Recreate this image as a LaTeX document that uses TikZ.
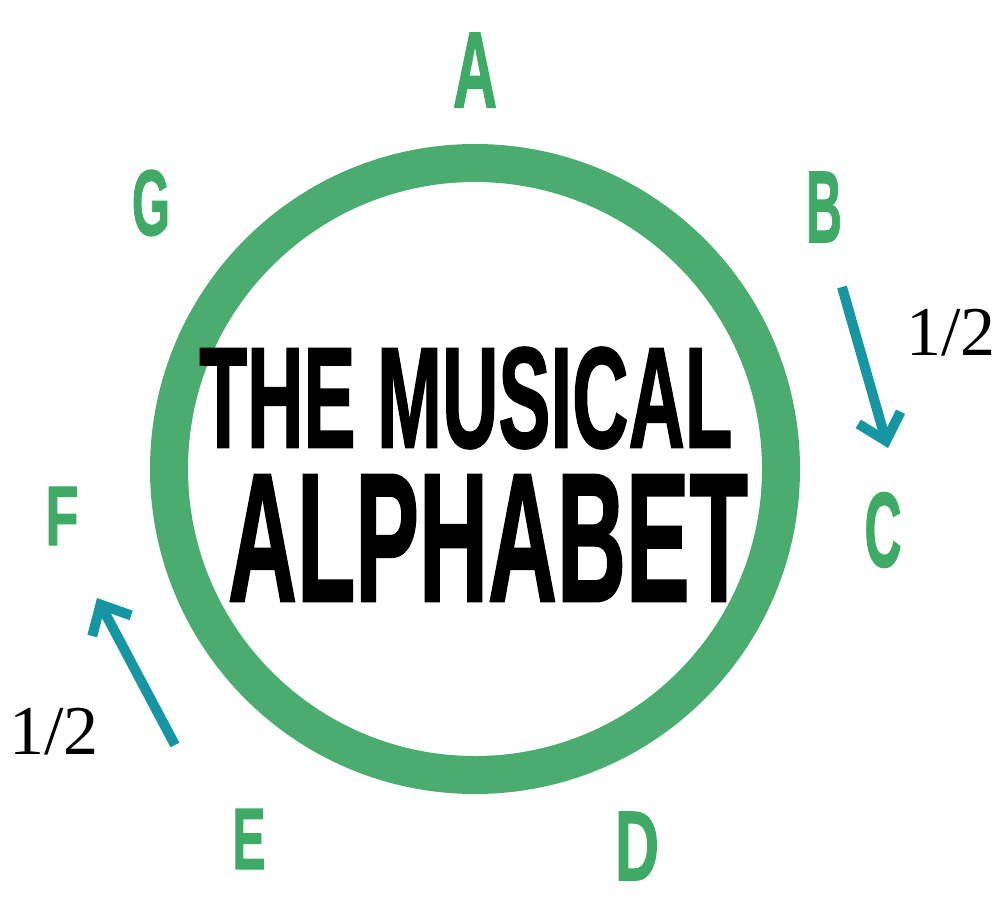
\documentclass[tikz,border=0pt]{standalone}
\usepackage{fontspec}
\usepackage{graphicx}
\usetikzlibrary{arrows.meta}
\newfontfamily\titlefont{Liberation Sans}[FakeBold=1.5]
\newfontfamily\numfont{Liberation Serif}
\definecolor{ringgreen}{RGB}{74,173,111}
\definecolor{lettgreen}{RGB}{62,170,102}
\definecolor{arrowteal}{RGB}{22,150,162}
\newcommand\fitbox[3]{\resizebox{#1}{#2}{\titlefont\bfseries #3}}
\tikzset{
  ring/.style={draw=ringgreen, line width=38pt},
  note/.style={inner sep=0pt, text=lettgreen},
  title/.style={inner sep=0pt, text=black},
  half/.style={inner sep=0pt, font=\numfont\fontsize{70}{70}\selectfont},
  halfarrow/.style={draw=arrowteal, line width=10pt, -{Straight Barb[length=24pt,width=44pt]}}
}
\begin{document}
\begin{tikzpicture}[x=1pt,y=-1pt]
\useasboundingbox (0,0) rectangle (1000,920);
\fill[white] (0,0) rectangle (1000,920);
\node[coordinate] (ctr) at (475,469) {};
\draw[ring] (ctr) circle[radius=306pt];
\node[title] (t1) at (466,398) {\fitbox{533pt}{100pt}{THE MUSICAL}};
\node[title] (t2) at (488,538) {\fitbox{520pt}{126pt}{ALPHABET}};
\node[note] (A) at (475,70) {\fitbox{44pt}{74pt}{A}};
\node[note] (B) at (824,207) {\fitbox{36pt}{70pt}{B}};
\node[note] (C) at (883,530) {\fitbox{37pt}{74pt}{C}};
\node[note] (D) at (637,846) {\fitbox{44pt}{68pt}{D}};
\node[note] (E) at (249,839) {\fitbox{33pt}{60pt}{E}};
\node[note] (F) at (62,516) {\fitbox{33pt}{58pt}{F}};
\node[note] (G) at (151,203) {\fitbox{38pt}{65pt}{G}};
\coordinate (r1) at (842,287);
\coordinate (r2) at (888,448);
\coordinate (l1) at (175,745);
\coordinate (l2) at (97,598);
\draw[halfarrow] (r1) -- (r2);
\draw[halfarrow] (l1) -- (l2);
\node[half] (h1) at (951,333) {1/2};
\node[half] (h2) at (54,732) {1/2};
\end{tikzpicture}
\end{document}
